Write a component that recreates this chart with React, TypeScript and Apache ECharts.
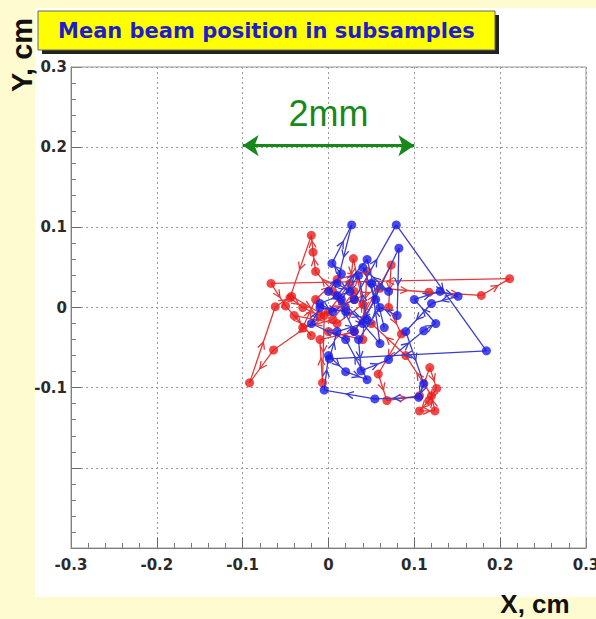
import React, { useEffect, useRef } from "react";
import * as echarts from "echarts";

// Subsample mean beam positions (x, y in cm), in acquisition order
const redPoints: [number, number][] = [
  [0.020, 0.000], [0.005, 0.020], [-0.015, 0.045], [-0.018, 0.069], [-0.020, 0.090],
  [-0.045, 0.012], [-0.030, 0.000], [-0.010, -0.010], [0.030, 0.010], [0.060, 0.024],
  [0.117, 0.019], [0.178, 0.015], [0.211, 0.036], [-0.067, 0.030], [-0.050, 0.002],
  [-0.020, -0.035], [-0.040, -0.010], [0.010, -0.020], [0.040, 0.004], [0.029, 0.061],
  [0.025, 0.030], [0.000, -0.005], [-0.064, -0.053], [-0.092, -0.094], [-0.062, 0.001],
  [-0.043, 0.014], [-0.005, -0.010], [-0.007, -0.094], [-0.010, -0.040], [0.030, -0.030],
  [0.073, 0.053], [0.070, 0.000], [0.085, -0.033], [0.058, -0.083], [0.068, -0.116],
  [0.106, -0.110], [0.118, -0.075], [0.126, -0.101], [0.117, -0.116], [0.106, -0.129],
  [0.124, -0.129], [0.120, -0.110], [0.090, -0.060], [0.050, -0.020], [0.030, 0.020],
  [0.005, -0.015], [-0.030, -0.025], [-0.015, 0.010], [0.010, 0.035], [0.045, 0.045],
  [0.040, -0.040], [0.000, -0.030],
];

const bluePoints: [number, number][] = [
  [0.000, 0.020], [0.015, 0.042], [0.004, 0.055], [0.027, 0.103], [0.010, 0.030],
  [0.025, 0.020], [-0.010, 0.005], [0.005, -0.005], [0.030, 0.010], [0.079, 0.103],
  [0.184, -0.054], [0.001, -0.064], [0.010, -0.030], [0.040, -0.020], [0.082, 0.074],
  [0.080, -0.010], [0.060, 0.000], [0.035, -0.040], [0.038, -0.079], [0.070, -0.065],
  [0.111, -0.029], [0.125, -0.020], [0.100, 0.010], [0.130, 0.020], [0.151, 0.014],
  [0.120, 0.005], [0.090, -0.030], [0.111, -0.095], [0.105, -0.112], [0.054, -0.114],
  [-0.005, -0.103], [0.000, -0.060], [0.020, -0.080], [0.045, -0.090], [0.020, -0.040],
  [-0.020, -0.020], [-0.010, 0.000], [0.020, -0.005], [0.045, -0.015], [0.035, 0.040],
  [0.015, 0.010], [0.060, -0.045], [0.050, 0.030], [0.070, 0.020], [0.040, 0.050],
  [0.055, 0.010], [0.030, -0.030], [0.010, 0.015], [0.045, 0.060], [0.065, -0.025],
];

// Scale bar for the 2 mm reference length
const scaleBarX = [-0.1, 0.1];
const scaleBarY = 0.202;
const scaleBarLabel = "2mm";

const axisMin = -0.3;
const axisMax = 0.3;
const axisStep = 0.1;

const RED = "#ee1c1c";
const RED_LINE = "#e23a3a";
const BLUE = "#1c1ce8";
const BLUE_LINE = "#3c3cd0";
const GREEN = "#17881a";

function toSegments(points: [number, number][]) {
  const out: number[][] = [];
  for (let i = 0; i < points.length - 1; i++) {
    out.push([points[i][0], points[i][1], points[i + 1][0], points[i + 1][1]]);
  }
  return out;
}

// Segment from one position to the next with an open arrowhead at its middle
function makeArrowRenderer(color: string) {
  return (params: any, api: any) => {
    const p1 = api.coord([api.value(0), api.value(1)]);
    const p2 = api.coord([api.value(2), api.value(3)]);
    const dx = p2[0] - p1[0];
    const dy = p2[1] - p1[1];
    const len = Math.hypot(dx, dy);
    const style = { stroke: color, lineWidth: 1.3, fill: null };
    const children: any[] = [
      { type: "line", shape: { x1: p1[0], y1: p1[1], x2: p2[0], y2: p2[1] }, style },
    ];
    if (len > 6) {
      const ux = dx / len;
      const uy = dy / len;
      const tx = p1[0] + dx * 0.5 + ux * 3;
      const ty = p1[1] + dy * 0.5 + uy * 3;
      const bx = tx - ux * 7;
      const by = ty - uy * 7;
      const nx = -uy * 3.5;
      const ny = ux * 3.5;
      children.push({
        type: "polyline",
        shape: { points: [[bx + nx, by + ny], [tx, ty], [bx - nx, by - ny]] },
        style,
      });
    }
    return { type: "group", children };
  };
}

const tickFormatter = (v: number) => (Math.abs(v) < 1e-9 ? "0" : v.toFixed(1));

export default function App() {
  const ref = useRef<HTMLDivElement>(null);

  useEffect(() => {
    if (!ref.current) return;
    const chart = echarts.init(ref.current, null, { renderer: "svg" });

    const labelFont = {
      fontFamily: "DejaVu Sans",
      fontWeight: "bold" as const,
      fontSize: 15,
      color: "#2a2a2a",
    };

    const valueAxis = {
      type: "value" as const,
      min: axisMin,
      max: axisMax,
      interval: axisStep,
      axisLine: { show: true, onZero: false, lineStyle: { color: "#666", width: 1 } },
      axisTick: { show: true, inside: true, length: 10, lineStyle: { color: "#666" } },
      minorTick: { show: true, splitNumber: 5, length: 5, lineStyle: { color: "#777" } },
      splitLine: { show: true, lineStyle: { color: "#9a9a9a", type: [2, 3], width: 1 } },
      minorSplitLine: { show: false },
    };

    chart.setOption({
      animation: false,
      backgroundColor: "#fffbd0",
      grid: {
        left: 71,
        right: 10,
        top: 67,
        bottom: 71,
        outerBoundsMode: "none",
        show: true,
        borderColor: "#999",
        borderWidth: 1,
        backgroundColor: "transparent",
        z: 1,
      },
      xAxis: {
        ...valueAxis,
        axisLabel: { ...labelFont, margin: 9, formatter: tickFormatter },
      },
      yAxis: {
        ...valueAxis,
        axisLabel: {
          ...labelFont,
          margin: 4,
          formatter: (v: number) => (v < -0.15 ? "" : tickFormatter(v)),
        },
      },
      graphic: [
        {
          type: "rect",
          z: -10,
          silent: true,
          shape: { x: 35, y: 8, width: 561, height: 589 },
          style: { fill: "#ffffff" },
        },
        {
          type: "rect",
          silent: true,
          shape: { x: 42, y: 15, width: 457, height: 39 },
          style: { fill: "#222222" },
        },
        {
          type: "rect",
          silent: true,
          shape: { x: 38, y: 11, width: 457, height: 39 },
          style: { fill: "#ffff00", stroke: "#666", lineWidth: 1 },
        },
        {
          type: "text",
          silent: true,
          x: 58,
          y: 31,
          style: {
            text: "Mean beam position in subsamples",
            fill: "#1e1ec8",
            font: "bold 21px 'DejaVu Sans'",
            verticalAlign: "middle",
            align: "left",
          },
        },
        {
          type: "text",
          silent: true,
          x: 22,
          y: 55,
          rotation: Math.PI / 2,
          style: {
            text: "Y, cm",
            fill: "#111",
            font: "bold 29px 'Liberation Sans'",
            align: "center",
            verticalAlign: "middle",
          },
        },
        {
          type: "text",
          silent: true,
          x: 535,
          y: 604,
          style: {
            text: "X, cm",
            fill: "#111",
            font: "bold 26px 'Liberation Sans'",
            align: "center",
            verticalAlign: "middle",
          },
        },
      ],
      series: [
        {
          type: "custom",
          name: "red path",
          renderItem: makeArrowRenderer(RED_LINE),
          data: toSegments(redPoints),
          encode: { x: [0, 2], y: [1, 3] },
          silent: true,
          z: 3,
        },
        {
          type: "scatter",
          name: "red",
          data: redPoints,
          symbol: "circle",
          symbolSize: 9,
          itemStyle: { color: RED },
          silent: true,
          z: 4,
        },
        {
          type: "custom",
          name: "blue path",
          renderItem: makeArrowRenderer(BLUE_LINE),
          data: toSegments(bluePoints),
          encode: { x: [0, 2], y: [1, 3] },
          silent: true,
          z: 5,
        },
        {
          type: "scatter",
          name: "blue",
          data: bluePoints,
          symbol: "circle",
          symbolSize: 9,
          itemStyle: { color: BLUE },
          silent: true,
          z: 6,
        },
        {
          type: "scatter",
          name: "scale",
          data: [],
          silent: true,
          z: 7,
          markLine: {
            silent: true,
            symbol: ["arrow", "arrow"],
            symbolSize: 16,
            lineStyle: { color: GREEN, width: 3, type: "solid" },
            label: {
              show: true,
              position: "middle",
              formatter: scaleBarLabel,
              color: GREEN,
              fontSize: 36,
              fontFamily: "Liberation Sans",
              distance: 14,
            },
            emphasis: { disabled: true },
            data: [
              [
                { coord: [scaleBarX[0], scaleBarY] },
                { coord: [scaleBarX[1], scaleBarY] },
              ],
            ],
          },
        },
      ],
    });

    return () => chart.dispose();
  }, []);

  return (
    <div
      ref={ref}
      style={{ position: "fixed", left: 0, top: 0, width: 596, height: 619 }}
    />
  );
}
